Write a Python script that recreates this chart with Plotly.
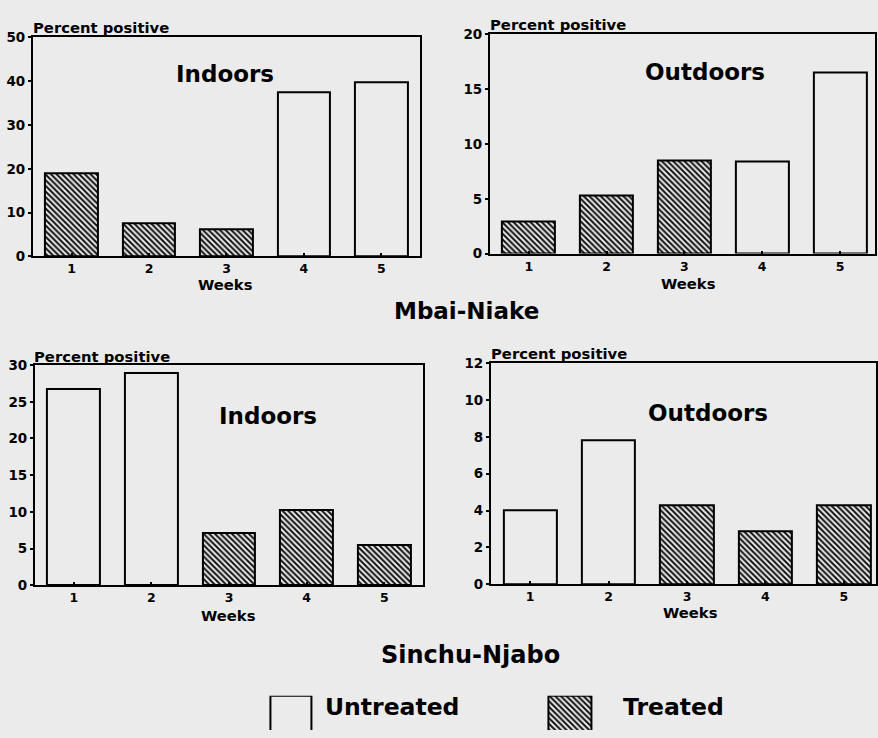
import plotly.graph_objects as go

W, H = 878, 738

weeks = [1, 2, 3, 4, 5]
mbai_indoors = [19.0, 7.6, 6.1, 37.4, 39.7]
mbai_outdoors = [2.9, 5.3, 8.5, 8.4, 16.5]
sinchu_indoors = [26.7, 28.9, 7.1, 10.2, 5.5]
sinchu_outdoors = [4.0, 7.8, 4.3, 2.9, 4.3]
mbai_status = ["Treated", "Treated", "Treated", "Untreated", "Untreated"]
sinchu_status = ["Untreated", "Untreated", "Treated", "Treated", "Treated"]
y_max = [50, 20, 30, 12]
y_dtick = [10, 5, 5, 2]
panel_titles = ["Indoors", "Outdoors", "Indoors", "Outdoors"]
village_names = ["Mbai-Niake", "Sinchu-Njabo"]
legend_labels = ["Untreated", "Treated"]

BG = "#ebebeb"
FONT = "DejaVu Sans"


def fx(p):
    return p / W


def fy(p):
    return 1 - p / H


# panel boxes in pixels: (left, right, top, bottom), x range end
panels = [
    (33, 421, 30, 254, 5.5),
    (491, 877, 27, 251, 5.45),
    (35, 424, 365, 590, 5.5),
    (492, 878, 363, 589, 5.41),
]
series = [mbai_indoors, mbai_outdoors, sinchu_indoors, sinchu_outdoors]
statuses = [mbai_status, mbai_status, sinchu_status, sinchu_status]

fig = go.Figure()
layout = {}
for i, (vals, st, (l, r, t, b, xend)) in enumerate(zip(series, statuses, panels)):
    n = "" if i == 0 else str(i + 1)
    shapes = ["\\" if s == "Treated" else "" for s in st]
    fig.add_trace(go.Bar(
        x=weeks, y=vals, width=0.68,
        xaxis="x" + n, yaxis="y" + n,
        marker=dict(color=BG, line=dict(color="black", width=2),
                    pattern=dict(shape=shapes, fgcolor="#111111", bgcolor=BG,
                                 size=4, solidity=0.5, fillmode="replace")),
        showlegend=False, hoverinfo="x+y",
    ))
    layout["xaxis" + n] = dict(
        domain=[fx(l), fx(r)], range=[0.5, xend], anchor="y" + n,
        tickvals=weeks, ticks="inside", ticklen=3, tickwidth=1.5, tickcolor="black",
        showline=True, linecolor="black", linewidth=2, mirror=True,
        showgrid=False, zeroline=False,
        tickfont=dict(family=FONT, size=12.5, color="black", weight="bold"),
    )
    layout["yaxis" + n] = dict(
        domain=[fy(b), fy(t)], range=[0, y_max[i]], anchor="x" + n,
        dtick=y_dtick[i], ticks="outside", ticklen=3, tickwidth=1.5, tickcolor="black",
        showline=True, linecolor="black", linewidth=2, mirror=True,
        showgrid=False, zeroline=False,
        tickfont=dict(family=FONT, size=13.5, color="black", weight="bold"),
    )

# legend boxes as a small bar subplot (boxes run off the bottom edge)
fig.add_trace(go.Bar(
    x=[0, 1], y=[1, 1], width=[41 / 280, 43 / 280],
    xaxis="x5", yaxis="y5",
    marker=dict(color=BG, line=dict(color="black", width=2),
                pattern=dict(shape=["", "\\"], fgcolor="#111111", bgcolor=BG,
                             size=4, solidity=0.5, fillmode="replace")),
    showlegend=False, hoverinfo="skip", text=legend_labels, textposition="none",
))
layout["xaxis5"] = dict(domain=[fx(250), fx(614)], range=[-41.5 / 280, 1 + 42.5 / 280],
                        anchor="y5", visible=False)
layout["yaxis5"] = dict(domain=[0, fy(703)], range=[0.3, 1.0], anchor="x5", visible=False)

ann = []


def text(x, y, s, size, xanchor="center"):
    ann.append(dict(x=fx(x), y=fy(y), xref="paper", yref="paper", text=s,
                    showarrow=False, xanchor=xanchor, yanchor="middle",
                    font=dict(family=FONT, size=size, color="black", weight="bold")))


title_pos = [(226, 67), (707, 65), (269, 417), (710, 414)]
pp_pos = [(31, 20), (489, 17), (32, 356), (490, 353)]
weeks_pos = [(226, 283), (690, 282), (229, 621), (692, 618)]
for i in range(4):
    text(*title_pos[i], panel_titles[i], 23)
    text(*pp_pos[i], "Percent positive", 14.8, xanchor="left")
    text(*weeks_pos[i], "Weeks", 14.8)

text(468, 310, village_names[0], 23)
text(472, 661, village_names[1], 24)
text(324, 714, legend_labels[0], 23.5, xanchor="left")
text(622, 714, legend_labels[1], 23.5, xanchor="left")

fig.update_layout(
    width=W, height=H, margin=dict(l=0, r=0, t=0, b=0),
    paper_bgcolor=BG, plot_bgcolor=BG,
    annotations=ann, bargap=0, **layout,
)

fig.write_html("out.html", config={"displayModeBar": False},
               post_script="document.body.style.margin='0';document.body.style.background='#ebebeb';")
